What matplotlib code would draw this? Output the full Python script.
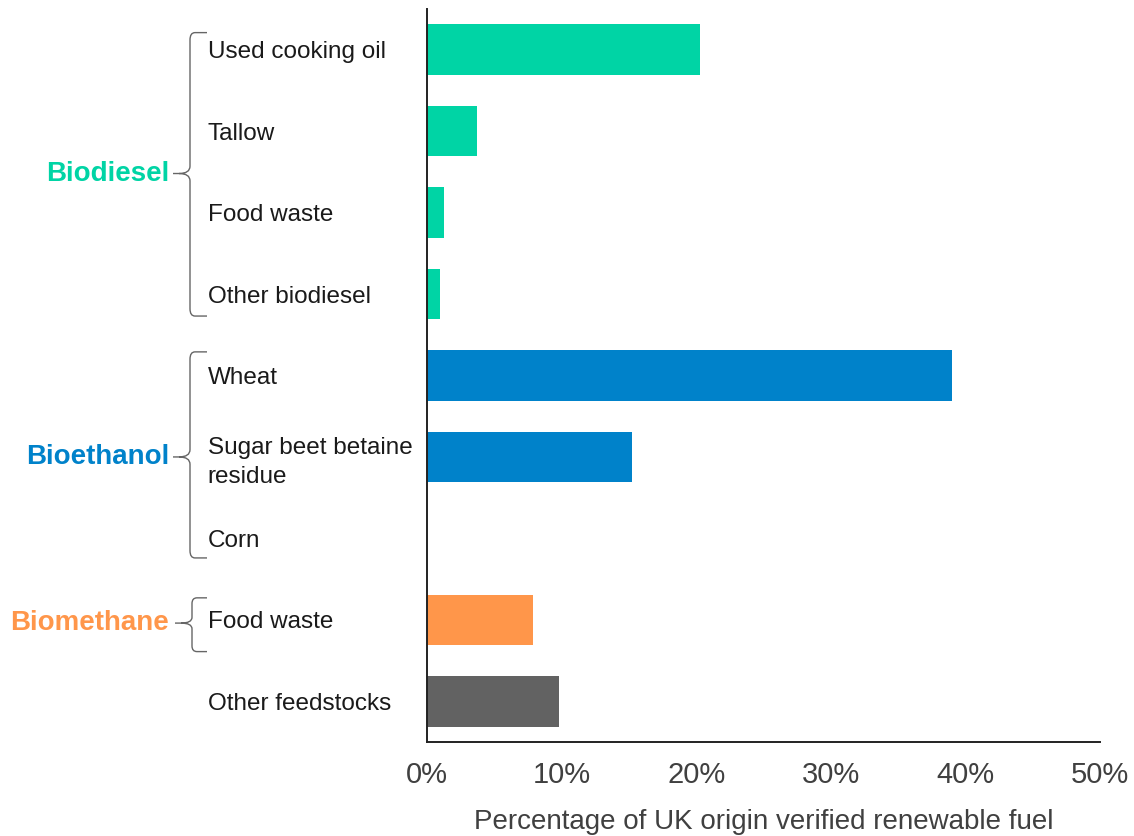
import matplotlib
matplotlib.use("Agg")
import matplotlib.pyplot as plt
from matplotlib.path import Path
from matplotlib.patches import PathPatch
from matplotlib import transforms
from matplotlib.ticker import FuncFormatter

categories = ["Used cooking oil", "Tallow", "Food waste", "Other biodiesel",
              "Wheat", "Sugar beet betaine\nresidue", "Corn",
              "Food waste", "Other feedstocks"]
values = [20.3, 3.7, 1.3, 1.0, 39.0, 15.2, 0.0, 7.9, 9.8]
groups = ["Biodiesel"] * 4 + ["Bioethanol"] * 3 + ["Biomethane", "Other"]
group_colors = {"Biodiesel": "#00D4A5", "Bioethanol": "#0082CA",
                "Biomethane": "#FF964A", "Other": "#626262"}
xticks = [0, 10, 20, 30, 40, 50]
xlabel = "Percentage of UK origin verified renewable fuel"

plt.rcParams['font.family'] = ['Liberation Sans', 'DejaVu Sans']

W, H = 1134, 836
fig = plt.figure(figsize=(W / 100, H / 100), dpi=100)
ax = fig.add_axes([427 / W, 1 - 742 / H, (1100 - 427) / W, (742 - 9) / H])

ypos = list(range(len(categories)))
ax.barh(ypos, values, height=0.62, color=[group_colors[g] for g in groups])
ax.set_ylim(len(categories) - 0.5, -0.5)
ax.set_xlim(0, 50)
ax.set_yticks(ypos)
ax.set_yticklabels(categories, ha='left', fontsize=17.5, color='#1a1a1a',
                   linespacing=1.4)
ax.tick_params(axis='y', length=0, pad=158)
ax.set_xticks(xticks)
ax.xaxis.set_major_formatter(FuncFormatter(lambda v, p: f"{int(v)}%"))
ax.tick_params(axis='x', length=0, pad=14, labelsize=21, labelcolor='#404040')
ax.set_xlabel(xlabel, fontsize=20, color='#404040', labelpad=14)
for s in ['top', 'right']:
    ax.spines[s].set_visible(False)
for s in ['left', 'bottom']:
    ax.spines[s].set_linewidth(1.4)
    ax.spines[s].set_color('#222222')

trans = transforms.blended_transform_factory(fig.transFigure, ax.transData)


def brace(y_top, y_bot, y_mid, x_line=190, x_end=207, x_tip=172, r=0.09):
    fx = lambda px: px / W
    verts = [
        (fx(x_end), y_top), (fx(x_line + 5), y_top),
        (fx(x_line), y_top), (fx(x_line), y_top + r),
        (fx(x_line), y_mid - r),
        (fx(x_line), y_mid), (fx(x_tip + 6), y_mid),
        (fx(x_tip), y_mid),
        (fx(x_tip + 6), y_mid), (fx(x_line), y_mid),
        (fx(x_line), y_mid + r),
        (fx(x_line), y_bot - r),
        (fx(x_line), y_bot), (fx(x_line + 5), y_bot),
        (fx(x_end), y_bot),
    ]
    codes = [Path.MOVETO, Path.LINETO,
             Path.CURVE3, Path.CURVE3,
             Path.LINETO,
             Path.CURVE3, Path.CURVE3,
             Path.LINETO,
             Path.MOVETO, Path.CURVE3, Path.CURVE3,
             Path.LINETO,
             Path.CURVE3, Path.CURVE3,
             Path.LINETO]
    patch = PathPatch(Path(verts, codes), transform=trans, fill=False,
                      edgecolor='#666666', linewidth=1.0, clip_on=False)
    fig.add_artist(patch)


brace_specs = [("Biodiesel", -0.21, 3.27, 1.52, 190),
               ("Bioethanol", 3.71, 6.24, 5.0, 190),
               ("Biomethane", 6.73, 7.39, 7.04, 192)]
for name, yt, yb, ym, xl in brace_specs:
    brace(yt, yb, ym, x_line=xl, x_tip=173 if name != "Biomethane" else 175,
          r=0.09 if name != "Biomethane" else 0.07)
    fig.text(169 / W, ym, name, transform=trans, ha='right', va='center',
             fontsize=20, fontweight='bold', color=group_colors[name])

fig.savefig("out.png", dpi=100)
